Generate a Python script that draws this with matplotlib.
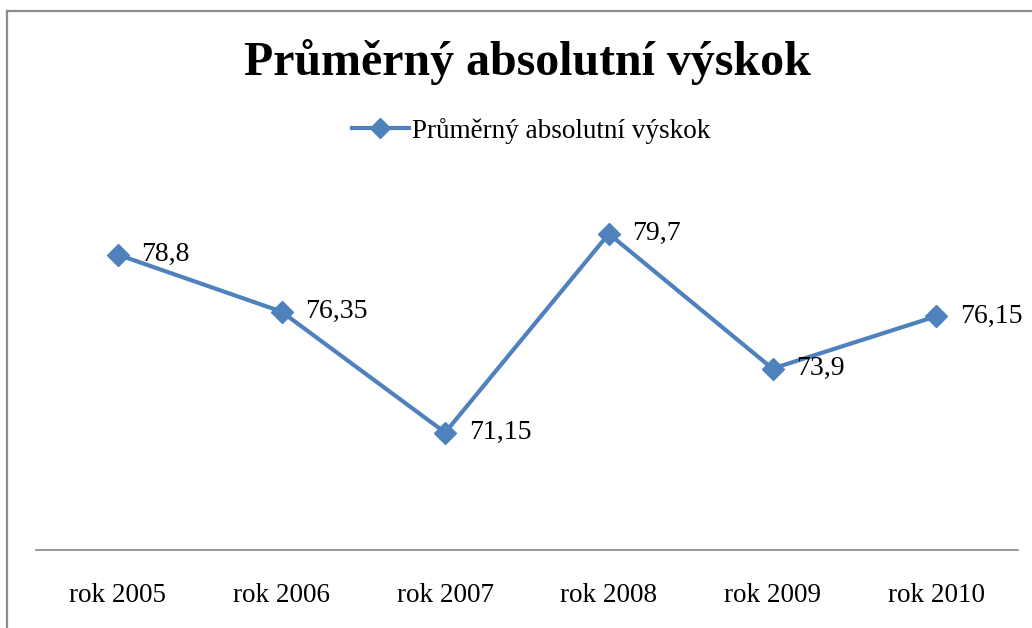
import matplotlib.pyplot as plt
from matplotlib.lines import Line2D

years = ["rok 2005", "rok 2006", "rok 2007", "rok 2008", "rok 2009", "rok 2010"]
values = [78.8, 76.35, 71.15, 79.7, 73.9, 76.15]
labels = ["78,8", "76,35", "71,15", "79,7", "73,9", "76,15"]
series_name = "Průměrný absolutní výskok"

plt.rcParams['font.family'] = ['Liberation Serif', 'DejaVu Serif']
blue = "#4F81BD"

fig = plt.figure(figsize=(10.32, 6.28), dpi=100)
W, H = 1032, 628

# outer chart border (only left and top visible in the crop)
fig.add_artist(Line2D([7 / W, 7 / W], [0, 1 - 11 / H], color="#8c8c8c", lw=1.6))
fig.add_artist(Line2D([7 / W, 1], [1 - 11 / H, 1 - 11 / H], color="#8c8c8c", lw=1.6))

ax = fig.add_axes([36 / W, 1 - 550 / H, (1018 - 36) / W, (550 - 157) / H])
x = list(range(len(years)))
ax.plot(x, values, color=blue, lw=3, marker="D", markersize=11, label=series_name)
for xi, v, lab in zip(x, values, labels):
    ax.annotate(lab, (xi, v), xytext=(17, 0), textcoords="offset points",
                ha="left", va="center", fontsize=20)

ax.set_xlim(-0.5, len(years) - 0.5)
ax.set_ylim(66.1, 83)
ax.set_xticks(x)
ax.set_xticklabels(years, fontsize=19.5)
ax.tick_params(axis="x", length=0, pad=24)
ax.set_yticks([])
for s in ["top", "left", "right"]:
    ax.spines[s].set_visible(False)
ax.spines["bottom"].set_color("#888888")
ax.spines["bottom"].set_linewidth(1.2)

fig.text(527 / W, 1 - 62 / H, series_name, ha="center", va="center",
         fontsize=34.5, fontweight="bold")
fig.legend(handles=[Line2D([], [], color=blue, lw=3, marker="D", markersize=10)],
           labels=[series_name], loc="center", bbox_to_anchor=(531 / W, 1 - 131 / H),
           frameon=False, fontsize=19.5, handlelength=2.1, handletextpad=0.1)

fig.savefig("out.png", dpi=100)
